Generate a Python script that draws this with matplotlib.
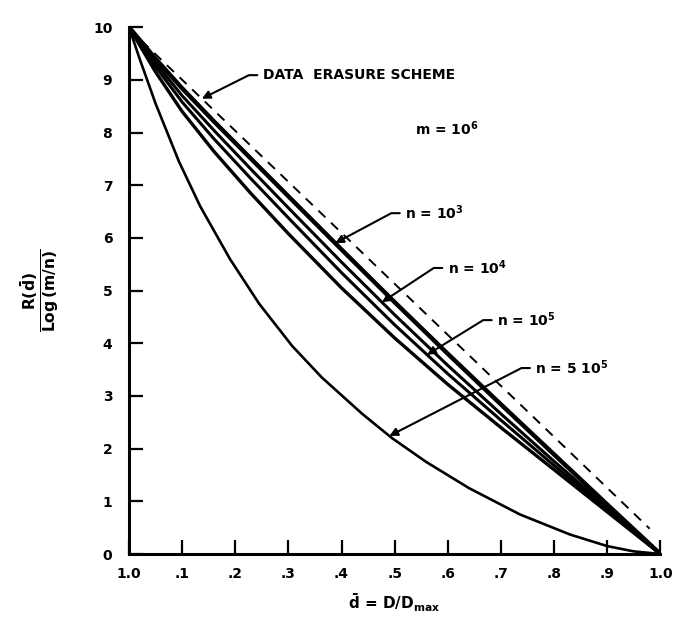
import numpy as np
import matplotlib
matplotlib.use('Agg')
import matplotlib.pyplot as plt

plt.rcParams['font.family'] = ['DejaVu Sans']
plt.rcParams['mathtext.fontset'] = 'dejavusans'
plt.rcParams['mathtext.default'] = 'bf'

# valores
x_pts = [0.0, 0.05, 0.1, 0.16, 0.228, 0.3, 0.4, 0.5, 0.6, 0.7, 0.8, 0.9, 1.0]
y_n3 = [10.0, 9.40, 8.84, 8.21, 7.52, 6.79, 5.78, 4.78, 3.80, 2.84, 1.89, 0.94, 0.0]
y_n4 = [10.0, 9.32, 8.70, 8.04, 7.32, 6.57, 5.54, 4.54, 3.58, 2.66, 1.76, 0.88, 0.0]
y_n5 = [10.0, 9.25, 8.58, 7.88, 7.14, 6.38, 5.34, 4.35, 3.42, 2.54, 1.68, 0.84, 0.0]
y_n5b = [10.0, 9.15, 8.40, 7.64, 6.86, 6.08, 5.05, 4.10, 3.22, 2.40, 1.60, 0.80, 0.0]

x_low = [0.0, 0.02, 0.05, 0.094, 0.134, 0.19, 0.245, 0.307, 0.363, 0.439, 0.495,
         0.559, 0.64, 0.736, 0.83, 0.9, 0.95, 1.0]
y_low = [10.0, 9.4, 8.55, 7.45, 6.6, 5.6, 4.75, 3.95, 3.35, 2.66, 2.2,
         1.75, 1.25, 0.75, 0.37, 0.15, 0.05, 0.0]

x_dash = [0.0, 0.98]
y_dash = [9.97, 0.48]

x_ticks = np.arange(0, 1.01, 0.1)
x_labels = ['1.0', '.1', '.2', '.3', '.4', '.5', '.6', '.7', '.8', '.9', '1.0']
y_ticks = np.arange(0, 11, 1)
y_labels = ['0', '1', '2', '3', '4', '5', '6', '7', '8', '9', '10']

fig = plt.figure(figsize=(6.9, 6.19), dpi=100)
ax = fig.add_axes([0.187, 0.105, 0.770, 0.851])

ax.plot(x_dash, y_dash, 'k', ls=(0, (5, 4)), lw=1.4)
ax.plot(x_pts, y_n3, 'k', lw=3.2, solid_joinstyle='round')
ax.plot(x_pts, y_n4, 'k', lw=2.2, solid_joinstyle='round')
ax.plot(x_pts, y_n5, 'k', lw=2.2, solid_joinstyle='round')
ax.plot(x_pts, y_n5b, 'k', lw=2.4, solid_joinstyle='round')
ax.plot(x_low, y_low, 'k', lw=1.9, solid_joinstyle='round')

ax.set_xlim(0, 1)
ax.set_ylim(0, 10)
for s in ['top', 'right']:
    ax.spines[s].set_visible(False)
for s in ['left', 'bottom']:
    ax.spines[s].set_linewidth(2.2)

ax.set_xticks(x_ticks)
ax.set_xticklabels(x_labels, fontweight='bold', fontsize=10)
ax.set_yticks(y_ticks)
ax.set_yticklabels(y_labels, fontweight='bold', fontsize=10)
ax.tick_params(axis='x', direction='in', length=10, width=1.6, pad=9)
ax.tick_params(axis='y', direction='in', length=10, width=1.6, pad=12)

ax.set_xlabel(r'$\bar{d}$ = D/D$_{max}$', fontsize=11, fontweight='bold', labelpad=8)
ax.set_ylabel(r'$\frac{R(\bar{d})}{\mathbf{Log}\,(m/n)}$', fontsize=16, labelpad=22)

arr = dict(arrowstyle='-|>', color='k', lw=1.5, mutation_scale=12,
           shrinkA=2, shrinkB=0)

def flecha(txt, xc, xs, ys, xt, yt):
    yc = np.interp(xc, xs, ys)
    ax.annotate(txt, xy=(xc, yc), xytext=(xt, yt), fontsize=10, fontweight='bold',
                ha='left', va='center',
                arrowprops=dict(arr, relpos=(0, 0.5),
                                connectionstyle='arc,angleA=180,armA=14,angleB=0,armB=0,rad=0'))

flecha('DATA  ERASURE SCHEME', 0.137, x_dash, y_dash, 0.252, 9.09)
flecha(r'n = 10$^3$', 0.388, x_pts, y_n3, 0.52, 6.47)
flecha(r'n = 10$^4$', 0.476, x_pts, y_n4, 0.60, 5.43)
flecha(r'n = 10$^5$', 0.561, x_pts, y_n5, 0.693, 4.44)
flecha(r'n = 5 10$^5$', 0.49, x_low, y_low, 0.765, 3.53)

ax.text(0.539, 8.08, r'm = 10$^6$', fontsize=10, fontweight='bold', ha='left', va='center')

fig.savefig('out.png', dpi=100)
